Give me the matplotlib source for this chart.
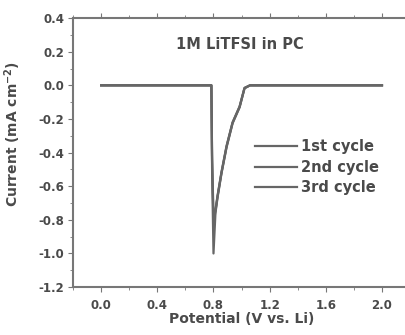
import matplotlib.pyplot as plt
from matplotlib.ticker import MultipleLocator

# linear sweep data, three cycles
cycle1_v = [0.0, 0.4, 0.7, 0.785, 0.79, 0.80, 0.814, 0.829, 0.857, 0.893, 0.936, 0.986, 1.021, 1.06, 1.4, 2.0]
cycle1_i = [0.0, 0.0, 0.0, 0.0, -0.5, -1.0, -0.76, -0.667, -0.524, -0.369, -0.226, -0.131, -0.018, 0.0, 0.0, 0.0]
cycle2_v = [0.0, 0.4, 0.7, 0.785, 0.79, 0.80, 0.814, 0.829, 0.857, 0.893, 0.936, 0.986, 1.021, 1.06, 1.4, 2.0]
cycle2_i = [0.0, 0.0, 0.0, 0.0, -0.45, -0.82, -0.75, -0.66, -0.52, -0.365, -0.222, -0.128, -0.016, 0.0, 0.0, 0.0]
cycle3_v = [0.0, 0.4, 0.7, 0.785, 0.79, 0.80, 0.814, 0.829, 0.857, 0.893, 0.936, 0.986, 1.021, 1.06, 1.4, 2.0]
cycle3_i = [0.0, 0.0, 0.0, 0.0, -0.42, -0.78, -0.74, -0.655, -0.515, -0.36, -0.22, -0.125, -0.015, 0.0, 0.0, 0.0]
labels = ['1st cycle', '2nd cycle', '3rd cycle']

ink = '#4a4a4a'
plt.rcParams['font.family'] = 'DejaVu Sans'
plt.rcParams['font.weight'] = 'bold'

fig = plt.figure(figsize=(4.06, 3.35), dpi=100)
fig.set_facecolor('white')
ax = fig.add_axes((0.18, 0.143, 0.83, 0.803))

for v, i, lab in zip([cycle1_v, cycle2_v, cycle3_v], [cycle1_i, cycle2_i, cycle3_i], labels):
    ax.plot(v, i, color='#666666', lw=1.6, label=lab)

ax.set_xlim(-0.2, 2.2)
ax.set_ylim(-1.2, 0.4)
ax.xaxis.set_minor_locator(MultipleLocator(0.2))
ax.yaxis.set_minor_locator(MultipleLocator(0.1))
ax.set_xticks([0.0, 0.4, 0.8, 1.2, 1.6, 2.0])
ax.set_xticklabels(['0.0', '0.4', '0.8', '1.2', '1.6', '2.0'])
ax.set_yticks([0.4, 0.2, 0.0, -0.2, -0.4, -0.6, -0.8, -1.0, -1.2])
ax.set_yticklabels(['0.4', '0.2', '0.0', '-0.2', '-0.4', '-0.6', '-0.8', '-1.0', '-1.2'])
ax.tick_params(which='both', direction='out', color='#777777', labelcolor=ink,
               labelsize=8.5, top=True, right=True)
ax.tick_params(axis='x', pad=5)
ax.tick_params(axis='y', pad=3)
for s in ax.spines.values():
    s.set_color('#777777')
    s.set_linewidth(1.5)

ax.set_xlabel('Potential (V vs. Li)', fontsize=10, color=ink, fontweight='bold', labelpad=0)
ax.set_ylabel('Current (mA cm$^{-2}$)', fontsize=10, color=ink, fontweight='bold')
ax.yaxis.set_label_coords(-0.15, 0.57)
ax.text(0.99, 0.24, '1M LiTFSI in PC', fontsize=10.5, color=ink, fontweight='bold', ha='center', va='center')

leg = ax.legend(loc='upper left', bbox_to_anchor=(0.5, 0.60), frameon=False, fontsize=10.5,
                handlelength=2.9, handletextpad=0.3, labelspacing=0.4)
for t in leg.get_texts():
    t.set_color(ink)

fig.text(0.56, 1.005, 'FIG. 1A', fontsize=25, fontweight='bold', color='#333333',
         ha='center', va='baseline')

fig.savefig('out.png', dpi=100)
